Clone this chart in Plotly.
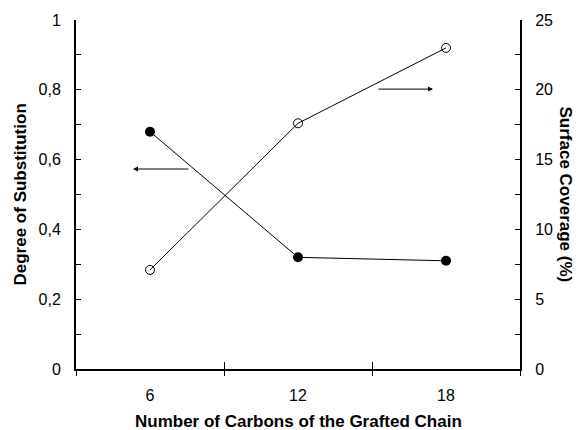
import plotly.graph_objects as go

carbons = [6, 12, 18]
degree_sub = [0.68, 0.32, 0.31]
surface_cov = [7.1, 17.6, 23.0]
x_tick_labels = ["6", "12", "18"]

FONT = "Liberation Sans, Arial, sans-serif"

fig = go.Figure()
fig.add_trace(go.Scatter(
    x=carbons, y=degree_sub, mode="lines+markers",
    line=dict(color="black", width=1),
    marker=dict(symbol="circle", size=10, color="black"),
    showlegend=False, xaxis="x", yaxis="y"))
fig.add_trace(go.Scatter(
    x=carbons, y=surface_cov, mode="lines+markers",
    line=dict(color="black", width=1),
    marker=dict(symbol="circle-open", size=9, color="black", line=dict(width=1)),
    showlegend=False, xaxis="x", yaxis="y2"))
# invisible trace to activate the overlay x axis (crossing tick marks)
fig.add_trace(go.Scatter(x=[carbons[0]], y=[degree_sub[0]], xaxis="x2", yaxis="y",
                         mode="markers", marker=dict(opacity=0), showlegend=False,
                         hoverinfo="skip"))

fig.update_layout(
    width=578, height=430,
    margin=dict(l=76, r=58, t=20, b=61),
    paper_bgcolor="white", plot_bgcolor="white",
    separators=", ",
    font=dict(family=FONT, size=16, color="black"),
    xaxis=dict(range=[3, 21], tickvals=carbons, ticktext=x_tick_labels,
               ticks="", showline=True, linecolor="black", linewidth=2,
               showgrid=False, zeroline=False, ticklabelstandoff=11,
               minor=dict(tickmode="linear", tick0=3, dtick=6, ticks="outside",
                          ticklen=5, tickwidth=1, tickcolor="black")),
    xaxis2=dict(range=[3, 21], overlaying="x", side="bottom", anchor="y",
                tickmode="linear", tick0=3, dtick=6, ticks="inside", ticklen=7,
                tickwidth=1, tickcolor="black", showticklabels=False,
                showline=False, showgrid=False, zeroline=False),
    yaxis=dict(range=[0, 1], dtick=0.2, tickformat=".1~f", ticks="inside", ticklen=5,
               tickwidth=1, tickcolor="black", showline=True, linecolor="black",
               linewidth=2, showgrid=False, zeroline=False, ticklabelstandoff=10,
               minor=dict(dtick=0.1, ticks="inside", ticklen=5, tickwidth=1,
                          tickcolor="black")),
    yaxis2=dict(range=[0, 25], dtick=5, overlaying="y", side="right", anchor="x",
                ticks="inside", ticklen=5, tickwidth=1, tickcolor="black",
                showline=True, linecolor="black", linewidth=2, showgrid=False,
                zeroline=False, ticklabelstandoff=10,
                minor=dict(dtick=2.5, ticks="inside", ticklen=5, tickwidth=1,
                           tickcolor="black")),
)

fig.add_annotation(x=5.31, y=0.573, ax=7.62, ay=0.573, xref="x", yref="y",
                   axref="x", ayref="y", showarrow=True, arrowhead=2,
                   arrowsize=1, arrowwidth=1, arrowcolor="black", text="")
fig.add_annotation(x=17.47, y=0.802, ax=15.2, ay=0.802, xref="x", yref="y",
                   axref="x", ayref="y", showarrow=True, arrowhead=2,
                   arrowsize=1, arrowwidth=1, arrowcolor="black", text="")

fig.add_annotation(text="<b>Number of Carbons of the Grafted Chain</b>",
                   x=0.5, y=(369 - 421) / 349, xref="paper", yref="paper",
                   showarrow=False, font=dict(size=17),
                   xanchor="center", yanchor="middle")
fig.add_annotation(text="<b>Degree of Substitution</b>", textangle=-90,
                   x=(20 - 76) / 444, y=0.5, xref="paper", yref="paper",
                   showarrow=False, font=dict(size=17),
                   xanchor="center", yanchor="middle")
fig.add_annotation(text="<b>Surface Coverage (%)</b>", textangle=90,
                   x=(565 - 76) / 444, y=0.5, xref="paper", yref="paper",
                   showarrow=False, font=dict(size=17),
                   xanchor="center", yanchor="middle")

fig.write_html("out.html",
               config={"displayModeBar": False, "staticPlot": True},
               post_script="document.body.style.margin='0';"
                           "document.body.style.overflow='hidden';")
